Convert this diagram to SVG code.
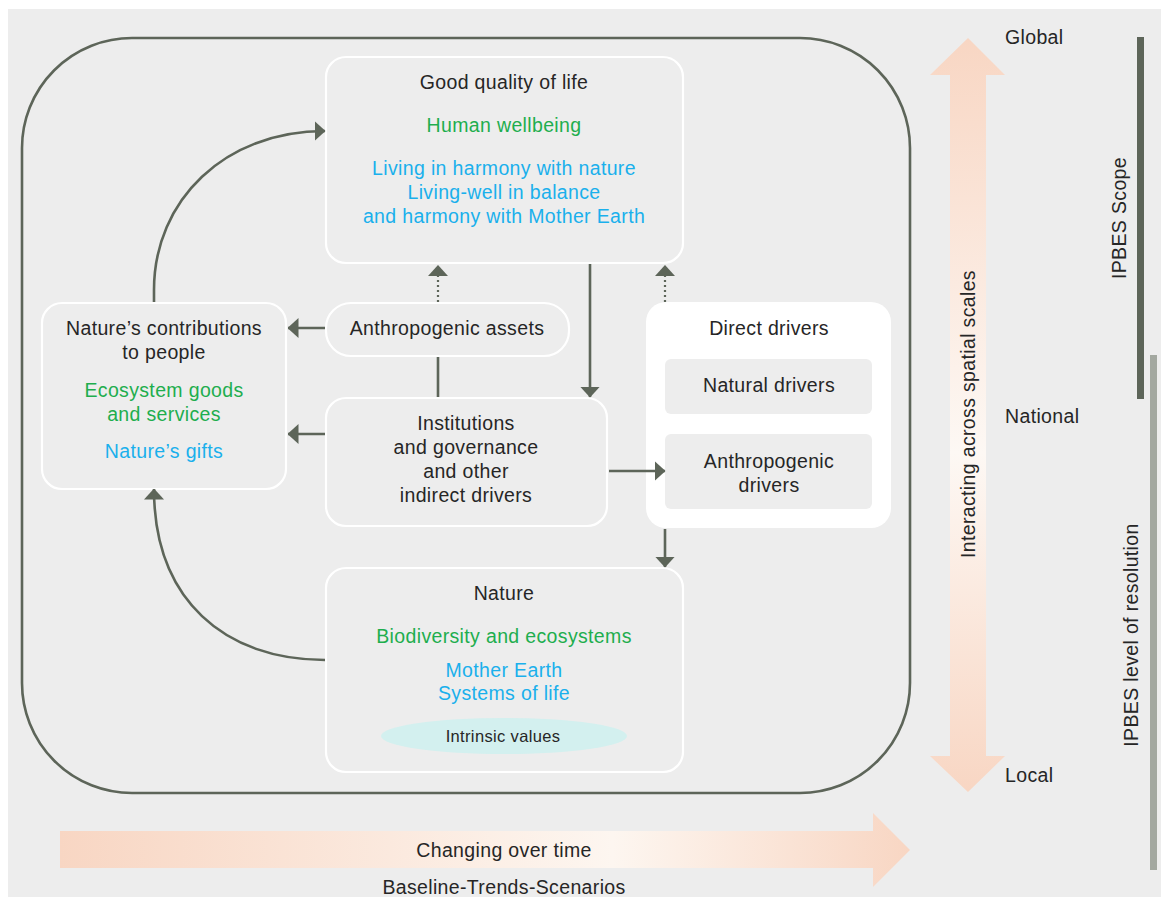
<svg xmlns="http://www.w3.org/2000/svg" width="1161" height="897" viewBox="0 0 1161 897">
<defs>
<style>
text{font-family:"Liberation Sans",Arial,sans-serif;font-size:19.5px;letter-spacing:0.35px;fill:#262626;text-anchor:middle}
.g{fill:#1eae4e}
.b{fill:#1ab0ec}
.box{fill:#ededed;stroke:#ffffff;stroke-width:2.2}
.con{fill:none;stroke:#5d6559;stroke-width:2.6}
.dot{fill:none;stroke:#5d6559;stroke-width:2.2;stroke-dasharray:2 3}
.lab{text-anchor:start}
</style>
<marker id="ah" viewBox="0 0 11 20" refX="10.5" refY="10" markerWidth="11" markerHeight="20" orient="auto" markerUnits="userSpaceOnUse">
<path d="M0,0 L11,10 L0,20 z" fill="#5d6559"/>
</marker>
<linearGradient id="vg" x1="0" y1="0" x2="0" y2="1">
<stop offset="0" stop-color="#f8d6c3"/>
<stop offset="0.55" stop-color="#fdf8f4"/>
<stop offset="1" stop-color="#f8d6c3"/>
</linearGradient>
<linearGradient id="hg" x1="0" y1="0" x2="1" y2="0">
<stop offset="0" stop-color="#f8d6c3"/>
<stop offset="0.65" stop-color="#fdf6f0"/>
<stop offset="1" stop-color="#f8d6c3"/>
</linearGradient>
</defs>
<rect x="0" y="0" width="1161" height="897" fill="#ffffff"/>
<rect x="8" y="9" width="1153" height="888" fill="#ededed"/>

<rect id="outer" x="22" y="38" width="888" height="755" rx="110" ry="110" fill="none" stroke="#5d6559" stroke-width="2.6"/>

<g id="scale-arrow">
<path d="M950,75 L930,75 L968,38 L1005,75 L986,75 L986,756 L1005,756 L968,792 L930,756 L950,756 z" fill="url(#vg)"/>
<text transform="translate(975,414) rotate(-90)">Interacting across spatial scales</text>
</g>
<g id="scale-labels">
<text class="lab" x="1005" y="44">Global</text>
<text class="lab" x="1005" y="423">National</text>
<text class="lab" x="1005" y="782">Local</text>
</g>
<g id="ipbes-scope">
<rect x="1137" y="37" width="7" height="362" fill="#5d6559"/>
<text transform="translate(1126,218) rotate(-90)">IPBES Scope</text>
</g>
<g id="ipbes-resolution">
<rect x="1150" y="355" width="7" height="515" fill="#a3a8a0"/>
<text transform="translate(1138,635) rotate(-90)">IPBES level of resolution</text>
</g>

<g id="time-arrow">
<path d="M60,831 L873,831 L873,813 L910,850 L873,887 L873,868 L60,868 z" fill="url(#hg)"/>
<text x="504" y="857">Changing over time</text>
<text x="504" y="894">Baseline-Trends-Scenarios</text>
</g>

<g id="good-quality">
<rect class="box" x="326" y="57" width="357" height="206" rx="20"/>
<text x="504" y="89">Good quality of life</text>
<text class="g" x="504" y="132">Human wellbeing</text>
<text class="b" x="504" y="175">Living in harmony with nature</text>
<text class="b" x="504" y="199">Living-well in balance</text>
<text class="b" x="504" y="223">and harmony with Mother Earth</text>
</g>

<g id="ncp">
<rect class="box" x="42" y="303" width="244" height="186" rx="20"/>
<text x="164" y="335">Nature’s contributions</text>
<text x="164" y="359">to people</text>
<text class="g" x="164" y="397">Ecosystem goods</text>
<text class="g" x="164" y="421">and services</text>
<text class="b" x="164" y="458">Nature’s gifts</text>
</g>

<g id="anthropogenic-assets">
<rect class="box" x="326" y="303" width="243" height="53" rx="25"/>
<text x="447" y="335">Anthropogenic assets</text>
</g>

<g id="institutions">
<rect class="box" x="326" y="398" width="281" height="128" rx="20"/>
<text x="466" y="430">Institutions</text>
<text x="466" y="454">and governance</text>
<text x="466" y="478">and other</text>
<text x="466" y="502">indirect drivers</text>
</g>

<g id="direct-drivers">
<rect x="646" y="302" width="245" height="226" rx="20" fill="#ffffff"/>
<text x="769" y="335">Direct drivers</text>
<rect x="665" y="359" width="207" height="55" rx="6" fill="#ededed"/>
<text x="769" y="392">Natural drivers</text>
<rect x="665" y="434" width="207" height="75" rx="6" fill="#ededed"/>
<text x="769" y="468">Anthropogenic</text>
<text x="769" y="492">drivers</text>
</g>

<g id="nature">
<rect class="box" x="326" y="568" width="357" height="204" rx="20"/>
<text x="504" y="600">Nature</text>
<text class="g" x="504" y="643">Biodiversity and ecosystems</text>
<text class="b" x="504" y="677">Mother Earth</text>
<text class="b" x="504" y="700">Systems of life</text>
<ellipse cx="504" cy="736" rx="123" ry="18" fill="#d3f0ef"/>
<text x="503" y="742" style="font-size:16.5px">Intrinsic values</text>
</g>

<g id="connectors">
<path class="con" d="M154,302 L154,290 C154,200 225,131 325,131" marker-end="url(#ah)"/>
<path class="con" d="M325,660 C225,660 154,600 154,489" marker-end="url(#ah)"/>
<path class="con" d="M325,328 L288,328" marker-end="url(#ah)"/>
<path class="con" d="M325,434 L288,434" marker-end="url(#ah)"/>
<path class="con" d="M438,357 L438,397"/>
<path class="dot" d="M438,302 L438,276"/>
<path d="M428,276 L448,276 L438,265 z" fill="#5d6559"/>
<path class="dot" d="M665,302 L665,276"/>
<path d="M655,276 L675,276 L665,265 z" fill="#5d6559"/>
<path class="con" d="M590,264 L590,397" marker-end="url(#ah)"/>
<path class="con" d="M609,471 L665,471" marker-end="url(#ah)"/>
<path class="con" d="M665,529 L665,567" marker-end="url(#ah)"/>
</g>
</svg>
